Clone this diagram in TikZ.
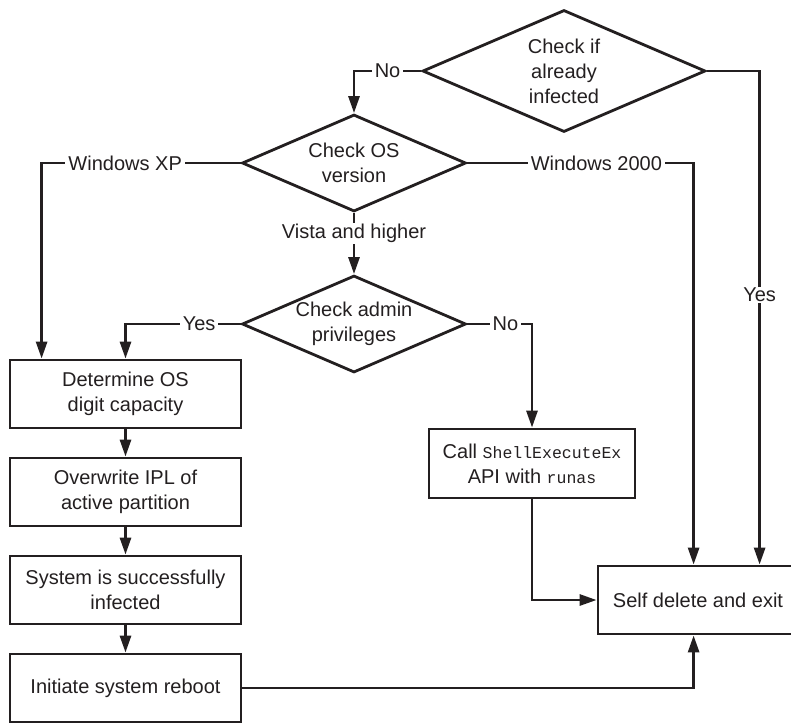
\documentclass[tikz,border=0pt]{standalone}
\usepackage{fontspec}
\setmainfont{Liberation Sans}
\newfontfamily\codefont{Liberation Mono}
\usetikzlibrary{arrows.meta, positioning, shapes.geometric}
\definecolor{ink}{HTML}{231F20}
\newcommand{\apicode}[1]{{\codefont\fontsize{16.5}{25}\selectfont #1}}

\begin{document}
\begin{tikzpicture}[
    x=1pt, y=-1pt,
    node distance=27.2pt,
    every node/.style={font=\fontsize{20}{25}\selectfont, text=ink},
    stepbox/.style={
        rectangle, draw=ink, line width=2.8pt,
        minimum width=231pt, minimum height=68pt,
        align=center, inner sep=0pt
    },
    check/.style={
        diamond, draw=ink, line width=2.8pt, aspect=2.3,
        align=center, inner sep=0pt
    },
    arr/.style={-{Triangle[length=17pt, width=11pt]}, line width=2.8pt, draw=ink},
    lbl/.style={fill=white, inner xsep=3pt, inner ysep=1pt}
]
\useasboundingbox (0,0) rectangle (791,723);
\clip (0,0) rectangle (791,723);

% Decisions
\node[check, minimum width=283pt, minimum height=122pt] (infected) at (564,71) {Check if\\already\\infected};
\node[check, minimum width=224pt, minimum height=97pt] (osver) at (354,163) {Check OS\\version};
\node[check, minimum width=224pt, minimum height=97pt] (admin) at (354,324) {Check admin\\privileges};

% Steps
\node[stepbox] (digits) at (125.5,394) {Determine OS\\digit capacity};
\node[stepbox, below=of digits] (ipl) {Overwrite IPL of\\active partition};
\node[stepbox, below=of ipl] (done) {System is successfully\\infected};
\node[stepbox, below=of done] (reboot) {Initiate system reboot};
\node[stepbox, minimum width=206pt, minimum height=69pt] (runas) at (532,463.5) {Call \apicode{ShellExecuteEx}\\API with \apicode{runas}};
\node[stepbox, minimum width=200pt] (selfdel) at (698,600) {Self delete and exit};

% Arrows
\draw[arr] (infected.west) -| node[lbl, pos=0.25] {No} (osver.north);
\draw[arr] (infected.east) -| node[lbl, pos=0.727] {Yes} ([xshift=163pt]selfdel.north west);
\draw[arr] (osver.west) -| node[lbl, pos=0.29] {Windows XP} ([xshift=33pt]digits.north west);
\draw[arr] (osver.east) -| node[lbl, pos=0.285] {Windows 2000} ([xshift=97pt]selfdel.north west);
\draw[arr] (osver.south) -- node[lbl, pos=0.34] {Vista and higher} (admin.north);
\draw[arr] (admin.west) -| node[lbl, pos=0.18] {Yes} (digits.north);
\draw[arr] (admin.east) -| node[lbl, pos=0.295] {No} (runas.north);
\draw[arr] (digits) -- (ipl);
\draw[arr] (ipl) -- (done);
\draw[arr] (done) -- (reboot);
\draw[arr] (runas.south) |- (selfdel.west);
\draw[arr] (reboot.east) -| ([xshift=97pt]selfdel.south west);

\end{tikzpicture}
\end{document}
